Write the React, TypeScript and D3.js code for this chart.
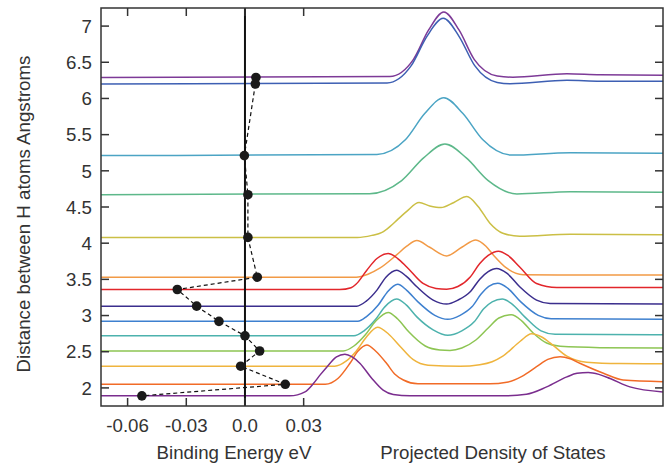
import React from "react";
import * as d3 from "d3";

// H–H distance (Å) for each configuration, top to bottom
const distances = [6.29, 6.2, 5.21, 4.67, 4.08, 3.53, 3.36, 3.13, 2.92, 2.72, 2.51, 2.3, 2.05, 1.89];
// Binding energy (eV) for each distance
const bindingEnergy = [0.0056, 0.0053, -0.0003, 0.0015, 0.0015, 0.0063, -0.0346, -0.0247, -0.0133, 0.0, 0.0075, -0.0022, 0.0206, -0.0527];
const seriesColors = [
  "#7d3a97", "#3d5fb3", "#4ba4c4", "#5db88a", "#cbbf45", "#f29a46", "#e2262b",
  "#3b2e8d", "#3e80cf", "#4db2ad", "#8dc553", "#efb43d", "#f16b27", "#7a2d8e",
];
const energyTicks = [-0.06, -0.03, 0.0, 0.03];
const energyTickLabels = ["-0.06", "-0.03", "0.0", "0.03"];
const distanceTicks = [2, 2.5, 3, 3.5, 4, 4.5, 5, 5.5, 6, 6.5, 7];

// Projected DOS curves: [energy position (0–100 across panel), DOS offset above baseline (Å units)]
const pdos629: [number, number][] = [[0, 0], [51.4, 0.014], [55.6, 0.251], [58.3, 0.657], [61.0, 0.906], [63.7, 0.657], [66.4, 0.251], [70.5, 0.021], [73.3, 0.004], [82.9, 0.05], [88.8, 0.036], [100, 0.032]];
const pdos620: [number, number][] = [[0, 0], [50.9, 0.014], [55.2, 0.253], [58.0, 0.659], [60.9, 0.907], [63.7, 0.659], [66.5, 0.253], [70.5, 0.021], [72.8, 0.004], [82.9, 0.051], [88.8, 0.039], [100, 0.037]];
const pdos521: [number, number][] = [[0, 0], [49.1, 0.017], [54.2, 0.222], [57.6, 0.581], [61.0, 0.8], [64.4, 0.581], [67.9, 0.222], [73.0, 0.007], [83.5, 0.041], [100, 0.033]];
const pdos467: [number, number][] = [[0, 0], [47.8, 0.014], [53.5, 0.195], [57.4, 0.508], [61.2, 0.7], [65.0, 0.508], [68.9, 0.195], [74.0, 0.01], [83.5, 0.041], [100, 0.033]];
const pdos408: [number, number][] = [[0, 0], [45.6, 0], [48.2, 0.028], [50.0, 0.069], [51.4, 0.149], [52.8, 0.249], [54.4, 0.359], [56.6, 0.481], [58.5, 0.435], [60.5, 0.412], [62.8, 0.483], [65.1, 0.564], [67.1, 0.428], [69.2, 0.196], [71.5, 0.058], [74.5, 0.017], [83.5, 0.044], [100, 0.035]];
const pdos353: [number, number][] = [[0, 0], [45.4, 0], [47.5, 0.041], [49.6, 0.124], [52.6, 0.308], [54.4, 0.428], [56.2, 0.506], [58.5, 0.414], [61.5, 0.294], [64.2, 0.414], [66.7, 0.515], [68.5, 0.428], [69.8, 0.308], [72.2, 0.124], [75.1, 0.035], [81.7, 0.032], [100, 0.032]];
const pdos336: [number, number][] = [[0, 0], [42.5, 0], [44.5, 0.025], [45.4, 0.075], [47.3, 0.267], [49.1, 0.428], [51.1, 0.497], [52.8, 0.428], [54.4, 0.312], [57.3, 0.083], [59.6, 0.014], [61.5, 0.004], [63.5, 0.041], [65.7, 0.174], [67.4, 0.359], [68.9, 0.47], [70.7, 0.529], [72.4, 0.47], [74.5, 0.312], [77.5, 0.083], [81.1, 0.028], [100, 0.028]];
const pdos313: [number, number][] = [[0, 0], [45.5, 0], [47.2, 0.069], [49.1, 0.221], [50.7, 0.4], [52.6, 0.497], [54.3, 0.414], [56.2, 0.267], [59.1, 0.083], [61.5, 0.028], [63.5, 0.083], [65.7, 0.198], [67.4, 0.373], [68.9, 0.477], [70.4, 0.521], [72.2, 0.456], [74.5, 0.267], [77.5, 0.083], [79.9, 0.037], [100, 0.028]];
const pdos292: [number, number][] = [[0, 0], [45.7, 0], [47.3, 0.069], [49.3, 0.221], [50.9, 0.4], [52.8, 0.511], [54.4, 0.428], [56.4, 0.269], [59.4, 0.083], [61.7, 0.028], [63.9, 0.083], [66.0, 0.2], [67.6, 0.373], [69.0, 0.483], [70.6, 0.525], [72.4, 0.456], [74.7, 0.269], [77.8, 0.083], [80.1, 0.037], [100, 0.028]];
const pdos272: [number, number][] = [[0, 0], [45.0, 0], [46.8, 0.069], [48.8, 0.221], [50.5, 0.4], [52.6, 0.507], [54.3, 0.428], [56.2, 0.262], [59.1, 0.083], [61.7, 0.007], [64.2, 0.069], [66.4, 0.193], [68.1, 0.373], [69.6, 0.47], [71.4, 0.507], [73.1, 0.442], [75.4, 0.262], [78.3, 0.069], [80.8, 0.021], [100, 0.014]];
const pdos251: [number, number][] = [[0, 0], [43.1, 0], [45.0, 0.069], [47.0, 0.221], [48.9, 0.414], [51.1, 0.533], [52.8, 0.442], [54.8, 0.262], [57.7, 0.069], [60.3, 0.014], [62.1, 0.008], [64.2, 0.041], [66.7, 0.152], [68.9, 0.318], [70.8, 0.456], [73.0, 0.501], [74.9, 0.414], [76.9, 0.249], [79.3, 0.11], [81.7, 0.064], [88.8, 0.046], [100, 0.041]];
const pdos230: [number, number][] = [[0, 0], [41.6, 0], [43.6, 0.069], [45.4, 0.207], [47.2, 0.4], [49.2, 0.539], [51.2, 0.442], [53.2, 0.276], [55.5, 0.093], [58.2, 0.014], [63.9, 0], [67.4, 0.021], [69.6, 0.062], [71.5, 0.138], [74.6, 0.345], [76.6, 0.448], [78.5, 0.4], [79.9, 0.323], [82.9, 0.138], [86.4, 0.055], [92.3, 0.036], [100, 0.033]];
const pdos205: [number, number][] = [[0, 0], [39.9, 0], [42.2, 0.083], [44.3, 0.29], [45.7, 0.456], [47.3, 0.543], [48.9, 0.456], [50.8, 0.29], [52.3, 0.138], [53.8, 0.059], [56.4, 0.007], [69.2, 0.007], [72.2, 0.028], [74.9, 0.11], [77.5, 0.243], [79.5, 0.345], [81.7, 0.381], [83.5, 0.352], [85.2, 0.29], [89.4, 0.152], [92.9, 0.059], [100, 0.036]];
const pdos189: [number, number][] = [[0, 0], [33.6, 0], [36.3, 0.055], [37.8, 0.171], [39.0, 0.29], [40.2, 0.4], [41.9, 0.539], [43.4, 0.576], [44.7, 0.539], [46.1, 0.448], [48.2, 0.24], [50.2, 0.079], [52.0, 0.019], [55.0, 0], [71.0, 0], [75.7, 0.023], [79.3, 0.124], [82.9, 0.262], [84.7, 0.311], [86.7, 0.323], [88.6, 0.297], [90.6, 0.24], [94.1, 0.124], [100, 0.055]];

const pdosCurves = [pdos629, pdos620, pdos521, pdos467, pdos408, pdos353, pdos336, pdos313, pdos292, pdos272, pdos251, pdos230, pdos205, pdos189];

const W = 671;
const H = 467;
const M = { left: 101, top: 8, right: 663, bottom: 406 };
const FONT = "'Liberation Sans', Arial, Helvetica, sans-serif";
const TEXT = "#333";
const FS = 18.7;

export default function App() {
  const x = d3.scaleLinear().domain([-0.0736, 0.2137]).range([M.left, M.right]);
  const pdosX = d3.scaleLinear().domain([0, 100]).range([M.left, M.right]);
  const y = d3.scaleLinear().domain([1.75, 7.25]).range([M.bottom, M.top]);

  const pts = distances.map((d, i) => ({ d, e: bindingEnergy[i] }));

  const dashLine = d3
    .line<{ d: number; e: number }>()
    .x((p) => x(p.e))
    .y((p) => y(p.d));

  const tickLen = 8;

  return (
    <svg
      width={W}
      height={H}
      style={{ position: "absolute", left: 0, top: 0, background: "#fff" }}
      fontFamily={FONT}
    >
      <defs>
        <clipPath id="plotclip">
          <rect x={M.left} y={M.top} width={M.right - M.left} height={M.bottom - M.top} />
        </clipPath>
      </defs>
      <g clipPath="url(#plotclip)">
        {pdosCurves.map((curve, i) => {
          const base = distances[i];
          const gen = d3
            .line<[number, number]>()
            .x((p) => pdosX(p[0]))
            .y((p) => y(base + p[1]))
            .curve(d3.curveMonotoneX);
          return (
            <path key={i} d={gen(curve) || ""} fill="none" stroke={seriesColors[i]} strokeWidth={1.5} />
          );
        })}
      </g>
      {/* zero line */}
      <line x1={x(0)} x2={x(0)} y1={M.top} y2={M.bottom} stroke="#111" strokeWidth={2} />
      {/* frame */}
      <rect
        x={M.left}
        y={M.top}
        width={M.right - M.left}
        height={M.bottom - M.top}
        fill="none"
        stroke="#333"
        strokeWidth={1.5}
      />
      {/* y ticks left and right */}
      {distanceTicks.map((t) => (
        <g key={"yt" + t}>
          <line x1={M.left} x2={M.left + tickLen} y1={y(t)} y2={y(t)} stroke="#333" strokeWidth={1.5} />
          <line x1={M.right} x2={M.right - tickLen} y1={y(t)} y2={y(t)} stroke="#333" strokeWidth={1.5} />
          <text x={M.left - 9} y={y(t)} dy="0.36em" textAnchor="end" fontSize={FS} fill={TEXT}>
            {String(t)}
          </text>
        </g>
      ))}
      {/* x ticks top and bottom */}
      {energyTicks.map((t, i) => (
        <g key={"xt" + t}>
          <line x1={x(t)} x2={x(t)} y1={M.bottom} y2={M.bottom - tickLen} stroke="#333" strokeWidth={1.5} />
          <line x1={x(t)} x2={x(t)} y1={M.top} y2={M.top + tickLen} stroke="#333" strokeWidth={1.5} />
          <text x={x(t)} y={432} textAnchor="middle" fontSize={FS} fill={TEXT}>
            {energyTickLabels[i]}
          </text>
        </g>
      ))}
      {/* binding energy dashed line and points */}
      <path d={dashLine(pts) || ""} fill="none" stroke="#111" strokeWidth={1.2} strokeDasharray="4,3" />
      {pts.map((p, i) => (
        <circle key={"pt" + i} cx={x(p.e)} cy={y(p.d)} r={4.8} fill="#1a1a1a" />
      ))}
      {/* axis titles */}
      <text x={234} y={459} textAnchor="middle" fontSize={FS} fill={TEXT}>
        Binding Energy eV
      </text>
      <text x={493} y={459} textAnchor="middle" fontSize={FS} fill={TEXT}>
        Projected Density of States
      </text>
      <text
        transform={`translate(30, 214) rotate(-90)`}
        textAnchor="middle"
        fontSize={FS}
        fill={TEXT}
      >
        Distance between H atoms Angstroms
      </text>
    </svg>
  );
}
